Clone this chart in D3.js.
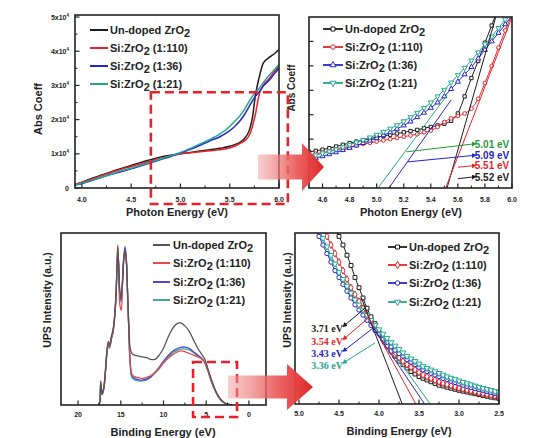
<!DOCTYPE html>
<html><head><meta charset="utf-8">
<script src="https://cdn.jsdelivr.net/npm/d3@7"></script>
<style>
body{margin:0;background:#fff}
text{font-family:Arial,"Liberation Sans",sans-serif;font-weight:bold;fill:#222}
</style></head>
<body><svg id="c" width="536" height="438"></svg>
<script>
// ================= DATA =================
const seriesLabels=[["Un-doped ZrO","2",""],["Si:ZrO","2"," (1:110)"],["Si:ZrO","2"," (1:36)"],["Si:ZrO","2"," (1:21)"]];
const seriesColors=["#1c1c1c","#e8242a","#2626c8","#26a690"];

// Panel A: absorption coefficient (x10^4)
const absX=[3.93,4.0,4.1,4.2,4.3,4.4,4.5,4.6,4.7,4.8,4.9,5.0,5.1,5.2,5.3,5.4,5.5,5.55,5.6,5.65,5.7,5.73,5.76,5.8,5.84,5.9,5.95,6.0];
const absUndoped=[0.1,0.17,0.28,0.38,0.48,0.57,0.66,0.75,0.83,0.91,0.96,1.0,1.04,1.08,1.12,1.16,1.22,1.27,1.33,1.45,1.7,2.05,2.7,3.25,3.65,3.82,3.92,4.05];
const abs110=[0.1,0.16,0.26,0.36,0.46,0.55,0.63,0.71,0.79,0.87,0.94,1.0,1.03,1.06,1.09,1.12,1.17,1.22,1.3,1.38,1.55,1.8,2.15,2.75,3.0,3.2,3.4,3.55];
const abs36=[0.08,0.13,0.22,0.31,0.4,0.48,0.56,0.65,0.74,0.83,0.92,1.02,1.13,1.25,1.38,1.5,1.68,1.8,1.95,2.15,2.4,2.55,2.68,2.82,2.98,3.15,3.33,3.5];
const abs21=[0.09,0.14,0.23,0.32,0.41,0.5,0.58,0.67,0.76,0.85,0.94,1.04,1.16,1.29,1.42,1.58,1.8,1.95,2.1,2.3,2.55,2.68,2.8,2.92,3.08,3.3,3.45,3.62];
const absYTicks=[0,1,2,3,4,5];
const absXTicks=[4.0,4.5,5.0,5.5,6.0];

// Panel B: zoomed absorption edge
const edgeX=[4.5,4.55,4.6,4.65,4.7,4.75,4.8,4.85,4.9,4.95,5.0,5.05,5.1,5.15,5.2,5.25,5.3,5.35,5.4,5.45,5.5,5.55,5.6,5.65,5.7,5.75,5.8,5.85,5.9,5.95,6.0];
const edgeUndoped=[1.48,1.52,1.57,1.63,1.7,1.77,1.84,1.9,1.96,2.02,2.08,2.13,2.18,2.23,2.28,2.33,2.38,2.45,2.5,2.56,2.63,2.75,3.05,3.75,4.5,5.2,5.95,6.65,7.4,null,null];
const edge110=[1.35,1.4,1.45,1.5,1.56,1.62,1.68,1.74,1.8,1.85,1.9,1.95,2.0,2.05,2.1,2.15,2.2,2.28,2.35,2.5,2.7,2.85,2.95,3.05,3.25,3.65,4.3,5.0,5.75,6.45,7.1];
const edge36=[1.15,1.23,1.3,1.38,1.46,1.55,1.64,1.74,1.84,1.94,2.04,2.16,2.28,2.42,2.56,2.72,2.9,3.08,3.28,3.5,3.75,4.05,4.35,4.65,4.95,5.3,5.65,6.0,6.35,6.7,7.05];
const edge21=[1.27,1.34,1.42,1.5,1.58,1.67,1.77,1.87,1.97,2.07,2.18,2.3,2.43,2.57,2.73,2.9,3.08,3.28,3.5,3.75,4.02,4.32,4.62,4.92,5.22,5.55,5.88,6.2,6.55,6.9,7.25];
const edgeXTicks=[4.6,4.8,5.0,5.2,5.4,5.6,5.8,6.0];
const edgeGap=[5.52,5.51,5.09,5.01];          // fitted band gaps (eV)
const edgeFitTopX=[5.88,6.0,5.55,5.52];
const edgeFitTopY=[7.0,7.0,3.6,3.8];
const edgeLabelY=[0.45,0.91,1.33,1.8];
const edgeArrowFromX=[5.6,5.6,5.23,5.22];
const edgeArrowFromY=[0.38,0.85,1.07,1.48];
const edgeLabelColors=["#1c1c1c","#e8242a","#2626c8","#2a9a3a"];

// Panel C: UPS spectra
const upsX=[17.6,17.45,17.35,17.2,17.0,16.8,16.6,16.45,16.3,16.1,15.9,15.7,15.55,15.45,15.35,15.25,15.1,14.95,14.8,14.65,14.5,14.35,14.2,14.05,13.9,13.7,13.4,13.0,12.5,12.0,11.5,11.0,10.5,10.0,9.5,9.0,8.5,8.0,7.5,7.0,6.5,6.0,5.6,5.2,4.8,4.4,4.0,3.6,3.2,2.8,2.4,2.0];
const upsUndoped=[0,0.02,0.14,0.07,0.1,0.2,0.33,0.37,0.35,0.4,0.44,0.53,0.65,0.8,0.92,0.82,0.66,0.63,0.72,0.85,0.9,0.84,0.65,0.45,0.33,0.3,0.29,0.285,0.28,0.275,0.265,0.265,0.29,0.33,0.39,0.44,0.47,0.477,0.46,0.43,0.38,0.33,0.3,0.27,0.21,0.15,0.095,0.055,0.028,0.012,0.004,0];
const ups110=[0,0.02,0.13,0.07,0.1,0.2,0.32,0.36,0.34,0.39,0.43,0.52,0.64,0.8,0.93,0.8,0.58,0.55,0.7,0.84,0.89,0.83,0.63,0.42,0.25,0.18,0.165,0.16,0.155,0.16,0.17,0.19,0.215,0.245,0.27,0.29,0.305,0.315,0.31,0.3,0.29,0.28,0.27,0.25,0.2,0.14,0.09,0.05,0.025,0.01,0.003,0];
const ups36=[0,0.02,0.12,0.06,0.09,0.19,0.31,0.35,0.34,0.39,0.43,0.53,0.66,0.79,0.88,0.82,0.64,0.61,0.72,0.86,0.92,0.85,0.64,0.43,0.24,0.17,0.155,0.148,0.145,0.15,0.165,0.19,0.22,0.255,0.285,0.31,0.325,0.335,0.337,0.33,0.31,0.29,0.275,0.25,0.2,0.14,0.09,0.05,0.025,0.01,0.003,0];
const ups21=[0,0.02,0.12,0.06,0.09,0.19,0.31,0.35,0.33,0.38,0.42,0.52,0.64,0.78,0.87,0.81,0.63,0.6,0.71,0.85,0.9,0.84,0.63,0.42,0.23,0.16,0.145,0.14,0.14,0.145,0.16,0.185,0.21,0.245,0.275,0.3,0.315,0.325,0.325,0.32,0.305,0.285,0.272,0.25,0.2,0.14,0.09,0.05,0.025,0.01,0.003,0];
const upsXTicks=[20,15,10,5,0];

// Panel D: valence band edge
const vbX=[4.8,4.75,4.7,4.65,4.6,4.55,4.5,4.45,4.4,4.35,4.3,4.25,4.2,4.15,4.1,4.05,4.0,3.95,3.9,3.85,3.8,3.75,3.7,3.65,3.6,3.55,3.5,3.45,3.4,3.35,3.3,3.25,3.2,3.15,3.1,3.05,3.0,2.95,2.9,2.85,2.8,2.75,2.7,2.65,2.6,2.55,2.5];
const vbUndoped=[null,null,null,null,null,1.02,0.98,0.93,0.87,0.81,0.74,0.68,0.62,0.56,0.51,0.47,0.42,0.38,0.34,0.31,0.28,0.25,0.23,0.21,0.19,0.175,0.16,0.15,0.14,0.13,0.12,0.11,0.105,0.098,0.092,0.086,0.08,0.075,0.07,0.065,0.06,0.055,0.05,0.045,0.04,0.036,0.032];
const vb110=[null,null,1.02,0.98,0.93,0.88,0.83,0.78,0.73,0.68,0.64,0.6,0.56,0.52,0.48,0.44,0.41,0.37,0.34,0.31,0.29,0.27,0.25,0.23,0.215,0.2,0.185,0.17,0.16,0.15,0.14,0.13,0.122,0.115,0.108,0.1,0.094,0.088,0.082,0.077,0.072,0.067,0.062,0.057,0.052,0.048,0.044];
const vb36=[1.03,0.98,0.93,0.88,0.83,0.78,0.74,0.7,0.66,0.62,0.58,0.55,0.52,0.49,0.46,0.43,0.41,0.38,0.36,0.335,0.315,0.295,0.28,0.26,0.245,0.23,0.215,0.2,0.19,0.18,0.17,0.16,0.15,0.142,0.134,0.126,0.118,0.11,0.103,0.096,0.09,0.084,0.078,0.072,0.066,0.061,0.056];
const vb21=[null,1.02,0.97,0.92,0.87,0.82,0.77,0.73,0.69,0.65,0.61,0.58,0.55,0.52,0.49,0.46,0.435,0.41,0.385,0.36,0.34,0.32,0.3,0.28,0.265,0.25,0.235,0.22,0.21,0.2,0.19,0.18,0.17,0.16,0.152,0.144,0.136,0.128,0.12,0.113,0.106,0.099,0.092,0.086,0.08,0.074,0.068];
const vbXTicks=[5.0,4.5,4.0,3.5,3.0,2.5];
const vbOnset=[3.71,3.54,3.43,3.36];           // VBM onsets (eV)
const vbFitTopX=[4.22,4.18,4.12,4.08];
const vbFitTopY=[0.62,0.55,0.48,0.47];
const vbLabelY=[0.444,0.368,0.298,0.228];
const vbArrowToX=[4.175,4.14,4.075,4.05];
const vbArrowToY=[0.56,0.5,0.444,0.357];

// ================= DRAW =================
const svg=d3.select("#c");
const defs=svg.append("defs");
const gr=defs.append("linearGradient").attr("id","ag").attr("x1",0).attr("x2",1).attr("y1",0).attr("y2",0);
gr.append("stop").attr("offset","0%").attr("stop-color","#f2a0a0").attr("stop-opacity",0.5);
gr.append("stop").attr("offset","55%").attr("stop-color","#ea5a5a").attr("stop-opacity",0.9);
gr.append("stop").attr("offset","100%").attr("stop-color","#e02424");
seriesColors.concat(["#2a9a3a"]).forEach((c,i)=>{
  defs.append("marker").attr("id","ah"+i).attr("viewBox","0 0 10 10").attr("refX",2).attr("refY",5)
    .attr("markerWidth",5).attr("markerHeight",5).attr("orient","auto-start-reverse")
    .append("path").attr("d","M0,0L10,5L0,10z").attr("fill",c);
});

function panel(id,box,xd,yd){
  const x=d3.scaleLinear(xd,[box.l,box.r]);
  const y=d3.scaleLinear(yd,[box.b,box.t]);
  defs.append("clipPath").attr("id","cl"+id).append("rect")
    .attr("x",box.l).attr("y",box.t).attr("width",box.r-box.l).attr("height",box.b-box.t);
  const g=svg.append("g");
  const plot=g.append("g").attr("clip-path",`url(#cl${id})`);
  return {x,y,g,plot,box};
}
function frame(p){
  p.g.append("rect").attr("x",p.box.l).attr("y",p.box.t).attr("width",p.box.r-p.box.l)
   .attr("height",p.box.b-p.box.t).attr("fill","none").attr("stroke","#222").attr("stroke-width",1.6);
}
function xTicks(p,major,minor,labels,ly){
  const b=p.box.b;
  minor.forEach(v=>p.g.append("line").attr("x1",p.x(v)).attr("x2",p.x(v)).attr("y1",b).attr("y2",b-2.5).attr("stroke","#222").attr("stroke-width",1));
  major.forEach((v,i)=>{
    p.g.append("line").attr("x1",p.x(v)).attr("x2",p.x(v)).attr("y1",b).attr("y2",b-4.5).attr("stroke","#222").attr("stroke-width",1.2);
    if(labels) p.g.append("text").attr("x",p.x(v)).attr("y",ly).attr("text-anchor","middle").attr("font-size",7).text(labels[i]);
  });
}
function yTicks(p,major,minor){
  const l=p.box.l;
  minor.forEach(v=>p.g.append("line").attr("x1",l).attr("x2",l+2.5).attr("y1",p.y(v)).attr("y2",p.y(v)).attr("stroke","#222").attr("stroke-width",1));
  major.forEach(v=>p.g.append("line").attr("x1",l).attr("x2",l+4.5).attr("y1",p.y(v)).attr("y2",p.y(v)).attr("stroke","#222").attr("stroke-width",1.2));
}
function series(xs,ys){return xs.map((x,i)=>({x,y:ys[i]}));}
function drawLine(p,data,color,w,curve){
  p.plot.append("path").datum(data).attr("fill","none").attr("stroke",color).attr("stroke-width",w)
    .attr("d",d3.line().defined(d=>d.y!=null).x(d=>p.x(d.x)).y(d=>p.y(d.y)).curve(curve||d3.curveMonotoneX));
}
const symTypes={square:d3.symbolSquare,circle:d3.symbolCircle,tri:d3.symbolTriangle,tridown:d3.symbolTriangle,diamond:d3.symbolDiamond};
function sym(g,type,cx,cy,color,size){
  g.append("path").attr("d",d3.symbol().type(symTypes[type]).size(size)())
   .attr("transform",`translate(${cx},${cy})`+(type==="tridown"?" rotate(180)":""))
   .attr("fill","#fff").attr("stroke",color).attr("stroke-width",1);
}
function drawMarkers(p,data,color,type,size){
  data.filter(d=>d.y!=null).forEach(d=>sym(p.plot,type,p.x(d.x),p.y(d.y),color,size));
}
function legend(g,x1,x2,tx,ys,fs,markers,cols){
  cols=cols||seriesColors;
  ys.forEach((yy,i)=>{
    g.append("line").attr("x1",x1).attr("x2",x2).attr("y1",yy).attr("y2",yy).attr("stroke",cols[i]).attr("stroke-width",markers?1.8:2);
    if(markers) sym(g,markers[i],(x1+x2)/2,yy,cols[i],16);
    const t=g.append("text").attr("x",tx).attr("y",yy+4).attr("font-size",fs);
    t.append("tspan").text(seriesLabels[i][0]);
    t.append("tspan").attr("dy",3).text(seriesLabels[i][1]);
    t.append("tspan").attr("dy",-3).text(seriesLabels[i][2]);
  });
}
function dashRect(g,x0,y0,x1,y1){
  g.append("rect").attr("x",x0).attr("y",y0).attr("width",x1-x0).attr("height",y1-y0)
   .attr("fill","none").attr("stroke","#e8202a").attr("stroke-width",2.6).attr("stroke-dasharray","9,5");
}
function bigArrow(x0,xb,tip,cy,sh,hh){
  svg.append("path").attr("d",d3.line()([[x0,cy-sh],[xb,cy-sh],[xb,cy-hh],[tip,cy],[xb,cy+hh],[xb,cy+sh],[x0,cy+sh]])+"Z")
    .attr("fill","url(#ag)");
}

// ---- Panel A ----
const A=panel("A",{l:75,t:15,r:279,b:188},[3.93,6.0],[0,5.06]);
[absUndoped,abs110,abs36,abs21].forEach((s,i)=>drawLine(A,series(absX,s),seriesColors[i],1.5));
frame(A);
xTicks(A,absXTicks,[4.25,4.75,5.25,5.75],absXTicks.map(d=>d.toFixed(1)),202);
yTicks(A,absYTicks,[0.5,1.5,2.5,3.5,4.5]);
absYTicks.forEach(v=>{
  const t=A.g.append("text").attr("x",69).attr("y",A.y(v)+2.5).attr("text-anchor","end").attr("font-size",7);
  if(v===0) t.text("0"); else {t.append("tspan").text(v+"x10"); t.append("tspan").attr("dy",-3).attr("font-size",4.5).text("4");}
});
A.g.append("text").attr("transform","translate(42,109) rotate(-90)").attr("text-anchor","middle").attr("font-size",11).text("Abs Coeff");
A.g.append("text").attr("x",177).attr("y",216).attr("text-anchor","middle").attr("font-size",11).text("Photon Energy (eV)");
legend(A.g,90,108,110,[30,48,66,84],11,null);

// ---- Panel B ----
const B=panel("B",{l:309,t:17,r:512,b:188},[4.5,6.0],[0,7]);
const bSyms=["square","circle","tri","tridown"];
[edgeUndoped,edge110,edge36,edge21].forEach((s,i)=>{
  const d=series(edgeX,s);
  drawLine(B,d,seriesColors[i],1);
  drawMarkers(B,d,seriesColors[i],bSyms[i],11);
});
edgeGap.forEach((g0,i)=>{
  B.plot.append("line").attr("x1",B.x(g0)).attr("y1",B.y(0)).attr("x2",B.x(edgeFitTopX[i])).attr("y2",B.y(edgeFitTopY[i]))
   .attr("stroke",seriesColors[i]).attr("stroke-width",1);
  B.g.append("line").attr("x1",B.x(edgeArrowFromX[i])).attr("y1",B.y(edgeArrowFromY[i])).attr("x2",B.x(5.71)).attr("y2",B.y(edgeLabelY[i]))
   .attr("stroke",edgeLabelColors[i]).attr("stroke-width",1).attr("marker-end",`url(#ah${i===3?4:i})`);
  B.g.append("text").attr("x",B.x(5.725)).attr("y",B.y(edgeLabelY[i])+3.5).attr("font-size",10)
   .style("fill",edgeLabelColors[i]).text(g0.toFixed(2)+" eV");
});
frame(B);
xTicks(B,edgeXTicks,[4.7,4.9,5.1,5.3,5.5,5.7,5.9],edgeXTicks.map(d=>d.toFixed(1)),202);
yTicks(B,[1,2,3,4,5,6],[]);
B.g.append("text").attr("transform","translate(295,88) rotate(-90)").attr("text-anchor","middle").attr("font-size",10).text("Abs Coeff");
B.g.append("text").attr("x",411).attr("y",216).attr("text-anchor","middle").attr("font-size",11).text("Photon Energy (eV)");
legend(B.g,323,343,345,[29,47,65,83],11,bSyms);

// ---- Panel C ----
const C=panel("C",{l:61,t:233,r:266,b:405},[22,-2],[0,1]);
const cCols=["#555","#e84a4a","#4a4ad0","#40a898"];
const upsAll=[upsUndoped,ups110,ups36,ups21];
[3,2,1,0].forEach(i=>drawLine(C,series(upsX,upsAll[i]),cCols[i],1.3,d3.curveCatmullRom));
frame(C);
xTicks(C,upsXTicks,[17.5,12.5,7.5,2.5],upsXTicks.map(String),417);
C.g.append("text").attr("transform","translate(51,300) rotate(-90)").attr("text-anchor","middle").attr("font-size",10.5).text("UPS Intensity (a.u.)");
C.g.append("text").attr("x",163).attr("y",436).attr("text-anchor","middle").attr("font-size",11).text("Binding Energy (eV)");
legend(C.g,153,170,173,[245,263,282,300],11,null,cCols);
dashRect(svg,C.x(6.54),C.y(0.25),C.x(1.39),C.y(-0.07));

// ---- Panel D ----
const D=panel("D",{l:295,t:233,r:499,b:404},[5.05,2.5],[0,1]);
const dSyms=["square","diamond","circle","tridown"];
const vbAll=[vbUndoped,vb110,vb36,vb21];
vbAll.forEach((s,i)=>drawLine(D,series(vbX,s),seriesColors[i],1));
vbAll.forEach((s,i)=>drawMarkers(D,series(vbX,s),seriesColors[i],dSyms[i],15));
vbOnset.forEach((e,i)=>{
  D.plot.append("line").attr("x1",D.x(e)).attr("y1",D.y(0)).attr("x2",D.x(vbFitTopX[i])).attr("y2",D.y(vbFitTopY[i]))
   .attr("stroke",seriesColors[i]).attr("stroke-width",1);
  D.g.append("line").attr("x1",D.x(4.42)).attr("y1",D.y(vbLabelY[i]+0.02)).attr("x2",D.x(vbArrowToX[i])).attr("y2",D.y(vbArrowToY[i]))
   .attr("stroke",seriesColors[i]).attr("stroke-width",1).attr("marker-start",`url(#ah${i})`);
  D.g.append("text").attr("x",D.x(4.45)).attr("y",D.y(vbLabelY[i])+3.5).attr("text-anchor","end").attr("font-size",10)
   .style("font-family","'Liberation Serif','Times New Roman',serif").style("fill",seriesColors[i]).text(e.toFixed(2)+" eV");
});
frame(D);
xTicks(D,vbXTicks,[4.75,4.25,3.75,3.25,2.75],vbXTicks.map(d=>d.toFixed(1)),416);
D.g.append("text").attr("transform","translate(291,300) rotate(-90)").attr("text-anchor","middle").attr("font-size",10.5).text("UPS Intensity (a.u.)");
D.g.append("text").attr("x",399).attr("y",435).attr("text-anchor","middle").attr("font-size",11).text("Binding Energy (eV)");
legend(D.g,388,407,409,[247,265,283,302],11,dSyms);

// ---- annotations across panels ----
dashRect(svg,A.x(4.7),A.y(2.8),A.x(6.09),A.y(-0.47));
bigArrow(258,302,324,167,12.5,24);
bigArrow(228,287,313,387,11.5,23);
</script></body></html>
